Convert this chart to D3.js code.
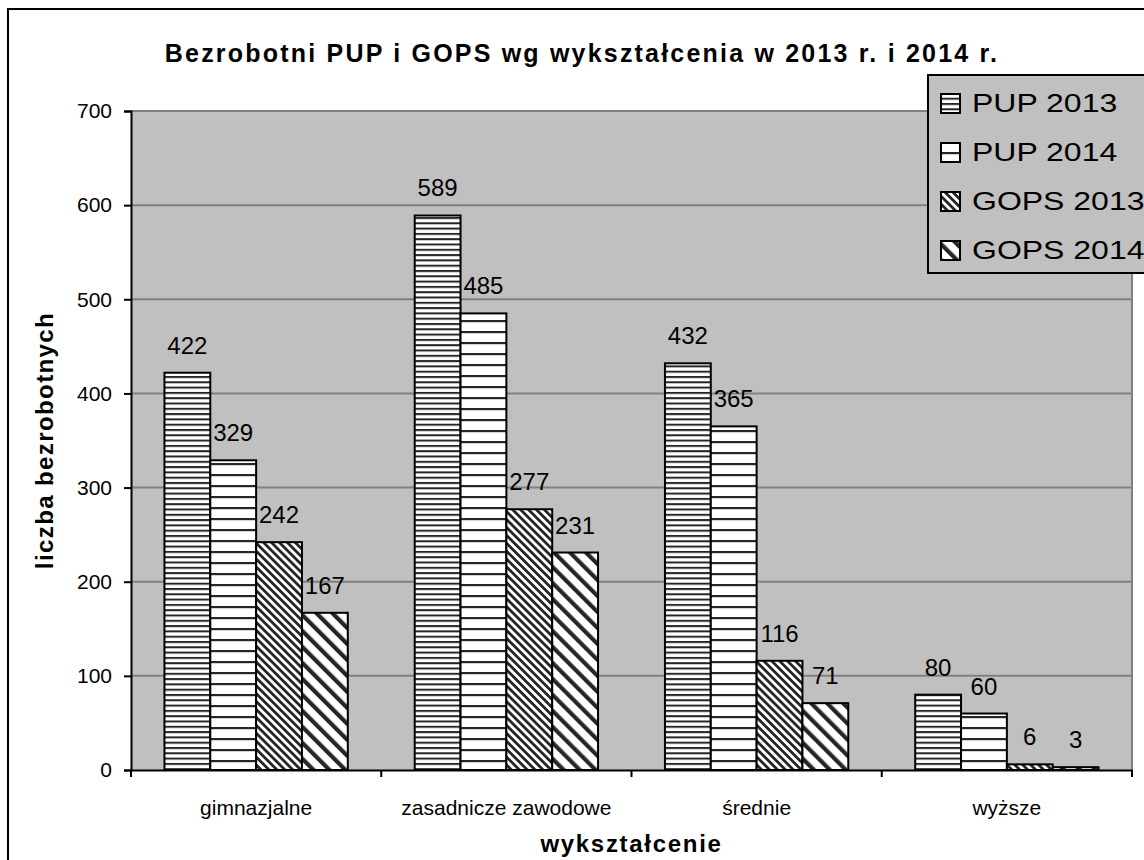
<!DOCTYPE html>
<html>
<head>
<meta charset="utf-8">
<script src="https://cdn.jsdelivr.net/npm/d3@7"></script>
<style>
  body { margin: 0; background: #fff; }
  svg { display: block; font-family: Arial, "Liberation Sans", sans-serif; }
</style>
</head>
<body>
<div id="wrapper"></div>
<script>
// data
const categories = ["gimnazjalne", "zasadnicze zawodowe", "średnie", "wyższe"]
const seriesNames = ["PUP 2013", "PUP 2014", "GOPS 2013", "GOPS 2014"]
const pup2013 = [422, 589, 432, 80]
const pup2014 = [329, 485, 365, 60]
const gops2013 = [242, 277, 116, 6]
const gops2014 = [167, 231, 71, 3]
const yTicks = [0, 100, 200, 300, 400, 500, 600, 700]

const seriesValues = [pup2013, pup2014, gops2013, gops2014]
const patternIds = ["p-hdense", "p-hwide", "p-ddense", "p-dwide"]

let dimensions = {
    width: 1144,
    height: 860,
    margin: { top: 111, right: 12, bottom: 90, left: 131 },
}
dimensions.boundedWidth = dimensions.width - dimensions.margin.left - dimensions.margin.right
dimensions.boundedHeight = dimensions.height - dimensions.margin.top - dimensions.margin.bottom

const svg = d3.select("#wrapper")
  .append("svg")
    .attr("width", dimensions.width)
    .attr("height", dimensions.height)

// patterns
const defs = svg.append("defs")
const ink = "#262626"

function hPattern(id, period, thick) {
    const p = defs.append("pattern")
        .attr("id", id)
        .attr("patternUnits", "userSpaceOnUse")
        .attr("width", 8).attr("height", period)
    p.append("rect").attr("width", 8).attr("height", period).attr("fill", "#fff")
    p.append("rect").attr("y", 0).attr("width", 8).attr("height", thick).attr("fill", ink)
}
function dPattern(id, period, thick) {
    const p = defs.append("pattern")
        .attr("id", id)
        .attr("patternUnits", "userSpaceOnUse")
        .attr("width", period).attr("height", period)
        .attr("patternTransform", "rotate(-45)")
    p.append("rect").attr("width", period).attr("height", period).attr("fill", "#fff")
    p.append("rect").attr("width", thick).attr("height", period).attr("fill", ink)
}
hPattern("p-hdense", 5.3, 2)
hPattern("p-hwide", 11, 2.2)
dPattern("p-ddense", 5.6, 2.8)
dPattern("p-dwide", 11.3, 4.2)

// outer frame
svg.append("rect")
    .attr("x", 8).attr("y", 9)
    .attr("width", dimensions.width + 20).attr("height", dimensions.height + 20)
    .attr("fill", "none").attr("stroke", "#000").attr("stroke-width", 2)

// scales
const x0 = d3.scaleBand()
    .domain(categories)
    .range([0, dimensions.boundedWidth])
    .padding(0)
const x1 = d3.scaleBand()
    .domain(seriesNames)
    .range([0, x0.bandwidth()])
    .paddingInner(0)
    .paddingOuter(0.73)
const y = d3.scaleLinear()
    .domain([0, 700])
    .range([dimensions.boundedHeight, 0])

const bounds = svg.append("g")
    .attr("transform", `translate(${dimensions.margin.left}, ${dimensions.margin.top})`)

// plot area
bounds.append("rect")
    .attr("width", dimensions.boundedWidth)
    .attr("height", dimensions.boundedHeight)
    .attr("fill", "#c0c0c0")

bounds.append("g")
    .selectAll("line")
    .data(yTicks.filter(d => d > 0))
    .join("line")
      .attr("x1", 0).attr("x2", dimensions.boundedWidth)
      .attr("y1", d => y(d)).attr("y2", d => y(d))
      .attr("stroke", "#808080").attr("stroke-width", 2)

bounds.append("line")
    .attr("x1", dimensions.boundedWidth).attr("x2", dimensions.boundedWidth)
    .attr("y1", 0).attr("y2", dimensions.boundedHeight)
    .attr("stroke", "#808080").attr("stroke-width", 2)

// bars
const rows = categories.map((c, i) => seriesNames.map((s, j) => ({
    cat: c, series: s, j: j, value: seriesValues[j][i]
})))

const groups = bounds.append("g")
    .selectAll("g")
    .data(rows)
    .join("g")
      .attr("transform", d => `translate(${x0(d[0].cat)}, 0)`)

groups.selectAll("rect")
    .data(d => d)
    .join("rect")
      .attr("x", d => x1(d.series))
      .attr("y", d => y(d.value))
      .attr("width", x1.bandwidth())
      .attr("height", d => dimensions.boundedHeight - y(d.value))
      .attr("fill", d => `url(#${patternIds[d.j]})`)
      .attr("stroke", "#000")
      .attr("stroke-width", 2)

groups.selectAll("text")
    .data(d => d)
    .join("text")
      .attr("x", d => x1(d.series) + x1.bandwidth() / 2)
      .attr("y", d => y(d.value) - 19)
      .attr("text-anchor", "middle")
      .attr("font-size", 24)
      .attr("fill", "#000")
      .text(d => d.value)

// axes
const yAxis = bounds.append("g")
    .call(d3.axisLeft(y).tickValues(yTicks).tickSize(7).tickPadding(12))
    .call(g => g.select(".domain").attr("stroke", "#000").attr("stroke-width", 2))
    .call(g => g.selectAll(".tick line").attr("stroke", "#000").attr("stroke-width", 2))
    .call(g => g.selectAll(".tick text")
        .attr("font-size", 21).attr("font-family", "Arial, 'Liberation Sans', sans-serif")
        .attr("fill", "#000"))

const xAxis = bounds.append("g")
    .attr("transform", `translate(0, ${dimensions.boundedHeight})`)
    .call(d3.axisBottom(x0).tickSize(0).tickPadding(30))
    .call(g => g.select(".domain").attr("stroke", "#000").attr("stroke-width", 2))
    .call(g => g.selectAll(".tick text")
        .attr("font-size", 21).attr("font-family", "Arial, 'Liberation Sans', sans-serif")
        .attr("fill", "#000"))

// category separators on the x axis
xAxis.append("g")
    .selectAll("line")
    .data(categories.concat(["end"]))
    .join("line")
      .attr("x1", (d, i) => i * x0.step())
      .attr("x2", (d, i) => i * x0.step())
      .attr("y1", 0).attr("y2", 7)
      .attr("stroke", "#000").attr("stroke-width", 2)

// titles
svg.append("text")
    .attr("x", 582).attr("y", 62)
    .attr("text-anchor", "middle")
    .attr("font-size", 25).attr("font-weight", "bold")
    .attr("letter-spacing", 2.2)
    .text("Bezrobotni PUP i GOPS wg wykształcenia w 2013 r. i 2014 r.")

svg.append("text")
    .attr("transform", `translate(53, ${dimensions.margin.top + dimensions.boundedHeight / 2}) rotate(-90)`)
    .attr("text-anchor", "middle")
    .attr("font-size", 24).attr("font-weight", "bold")
    .attr("letter-spacing", 1.4)
    .text("liczba bezrobotnych")

svg.append("text")
    .attr("x", dimensions.margin.left + dimensions.boundedWidth / 2)
    .attr("y", 852)
    .attr("text-anchor", "middle")
    .attr("font-size", 24).attr("font-weight", "bold")
    .attr("letter-spacing", 1.7)
    .text("wykształcenie")

// legend
const legend = svg.append("g")
    .attr("transform", "translate(928, 75)")

legend.append("rect")
    .attr("width", 240).attr("height", 198)
    .attr("fill", "#c0c0c0")
    .attr("stroke", "#000").attr("stroke-width", 2)

const legendItem = legend.selectAll(".item")
    .data(seriesNames)
    .join("g")
      .attr("class", "item")
      .attr("transform", (d, i) => `translate(0, ${28 + i * 49})`)

legendItem.append("rect")
    .attr("x", 13).attr("y", -9)
    .attr("width", 19).attr("height", 19)
    .attr("fill", (d, i) => `url(#${patternIds[i]})`)
    .attr("stroke", "#000").attr("stroke-width", 2)

// the legend text in the original is drawn a bit stretched sideways
legendItem.append("text")
    .attr("transform", "translate(44, 9) scale(1.28, 1)")
    .attr("font-size", 25)
    .text(d => d)
</script>
</body>
</html>
